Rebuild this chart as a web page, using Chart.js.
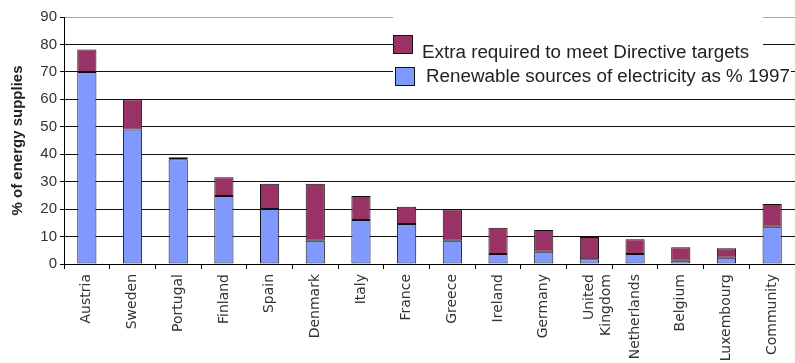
<!DOCTYPE html>
<html>
<head>
<meta charset="utf-8">
<script src="https://cdn.jsdelivr.net/npm/chart.js@4.4.1/dist/chart.umd.min.js"></script>
<style>
    body { margin: 0; background: #fff; }
    #wrap { width: 795px; height: 363px; }
</style>
</head>
<body>
<div id="wrap"><canvas id="chart" width="795" height="363"></canvas></div>
<script>
// Datos
const categories = ['Austria', 'Sweden', 'Portugal', 'Finland', 'Spain', 'Denmark', 'Italy', 'France',
    'Greece', 'Ireland', 'Germany', ['United', 'Kingdom'], 'Netherlands', 'Belgium', 'Luxembourg', 'Community'];
const renewable1997 = [70, 49, 38.2, 24.8, 20, 8.5, 16, 14.6, 8.5, 3.6, 4.5, 1.7, 3.6, 1.2, 2.3, 13.6];
const extraRequired = [8.2, 11, 0.7, 6.8, 9.2, 20.7, 8.8, 6.3, 11.4, 9.6, 7.9, 8.1, 5.4, 4.9, 3.4, 8.3];
const yTicks = [0, 10, 20, 30, 40, 50, 60, 70, 80, 90];

const FONT = "Arial, 'Liberation Sans', sans-serif";
const BLUE = '#8099ff';
const MAROON = '#993366';

// Leyenda dibujada dentro del área del gráfico, con fondo blanco
const boxLegend = {
    id: 'boxLegend',
    afterDraw(chart) {
        const ctx = chart.ctx;
        const items = [chart.data.datasets[1], chart.data.datasets[0]];
        const stretch = 1.045;
        ctx.save();
        ctx.font = '18px ' + FONT;
        const w2 = ctx.measureText(items[1].label).width * stretch;
        ctx.fillStyle = '#fff';
        ctx.fillRect(393, 10, 370, 80);
        ctx.fillRect(393, 62, 426 + w2 - 393 + 1, 28);

        const rows = [
            { x: 393, y: 35, tx: 422, ty: 58 },
            { x: 395, y: 67, tx: 426, ty: 82 }
        ];
        rows.forEach((r, i) => {
            ctx.fillStyle = items[i].backgroundColor;
            ctx.fillRect(r.x, r.y, 20, 19);
            ctx.strokeStyle = '#111';
            ctx.lineWidth = 1;
            ctx.strokeRect(r.x + 0.5, r.y + 0.5, 19, 18);
            ctx.fillStyle = '#222';
            ctx.textBaseline = 'alphabetic';
            ctx.save();
            ctx.translate(r.tx, r.ty);
            ctx.scale(stretch, 1);
            ctx.fillText(items[i].label, 0, 0);
            ctx.restore();
        });
        ctx.restore();
    }
};

new Chart(document.getElementById('chart'), {
    type: 'bar',
    data: {
        labels: categories,
        datasets: [
            { label: 'Renewable sources of electricity as % 1997', data: renewable1997,
              backgroundColor: BLUE, borderColor: '#111', borderWidth: 1, borderSkipped: false,
              barPercentage: 0.42, categoryPercentage: 1 },
            { label: 'Extra required to meet Directive targets', data: extraRequired,
              backgroundColor: MAROON, borderColor: '#111', borderWidth: 1, borderSkipped: false,
              barPercentage: 0.42, categoryPercentage: 1 }
        ]
    },
    options: {
        responsive: false, animation: false,
        layout: { padding: { top: 17, left: 0, right: 0, bottom: 0 } },
        plugins: { legend: { display: false }, tooltip: { enabled: false } },
        scales: {
            x: {
                stacked: true,
                afterFit: s => { s.height = 99; },
                grid: { drawOnChartArea: false, drawTicks: true, tickLength: 5, color: '#000' },
                border: { color: '#000' },
                ticks: { autoSkip: false, minRotation: 90, maxRotation: 90, padding: 5,
                         color: '#333', font: { family: "'DejaVu Sans', sans-serif", size: 14 } }
            },
            y: {
                stacked: true, min: 0, max: 90,
                afterFit: s => { s.width = 64; },
                afterBuildTicks: s => { s.ticks = yTicks.map(v => ({ value: v })); },
                grid: { color: c => (c.tick && c.tick.value === 90 ? '#a8a8a8' : '#111'),
                        tickColor: '#000', tickLength: 4, lineWidth: 1 },
                border: { color: '#000' },
                ticks: { padding: 3, color: '#333', font: { family: FONT, size: 15 } },
                title: { display: true, text: '% of energy supplies', color: '#222',
                         padding: { top: 9, bottom: 0 },
                         font: { family: FONT, size: 15, weight: 'bold' } }
            }
        }
    },
    plugins: [boxLegend]
});
</script>
</body>
</html>
